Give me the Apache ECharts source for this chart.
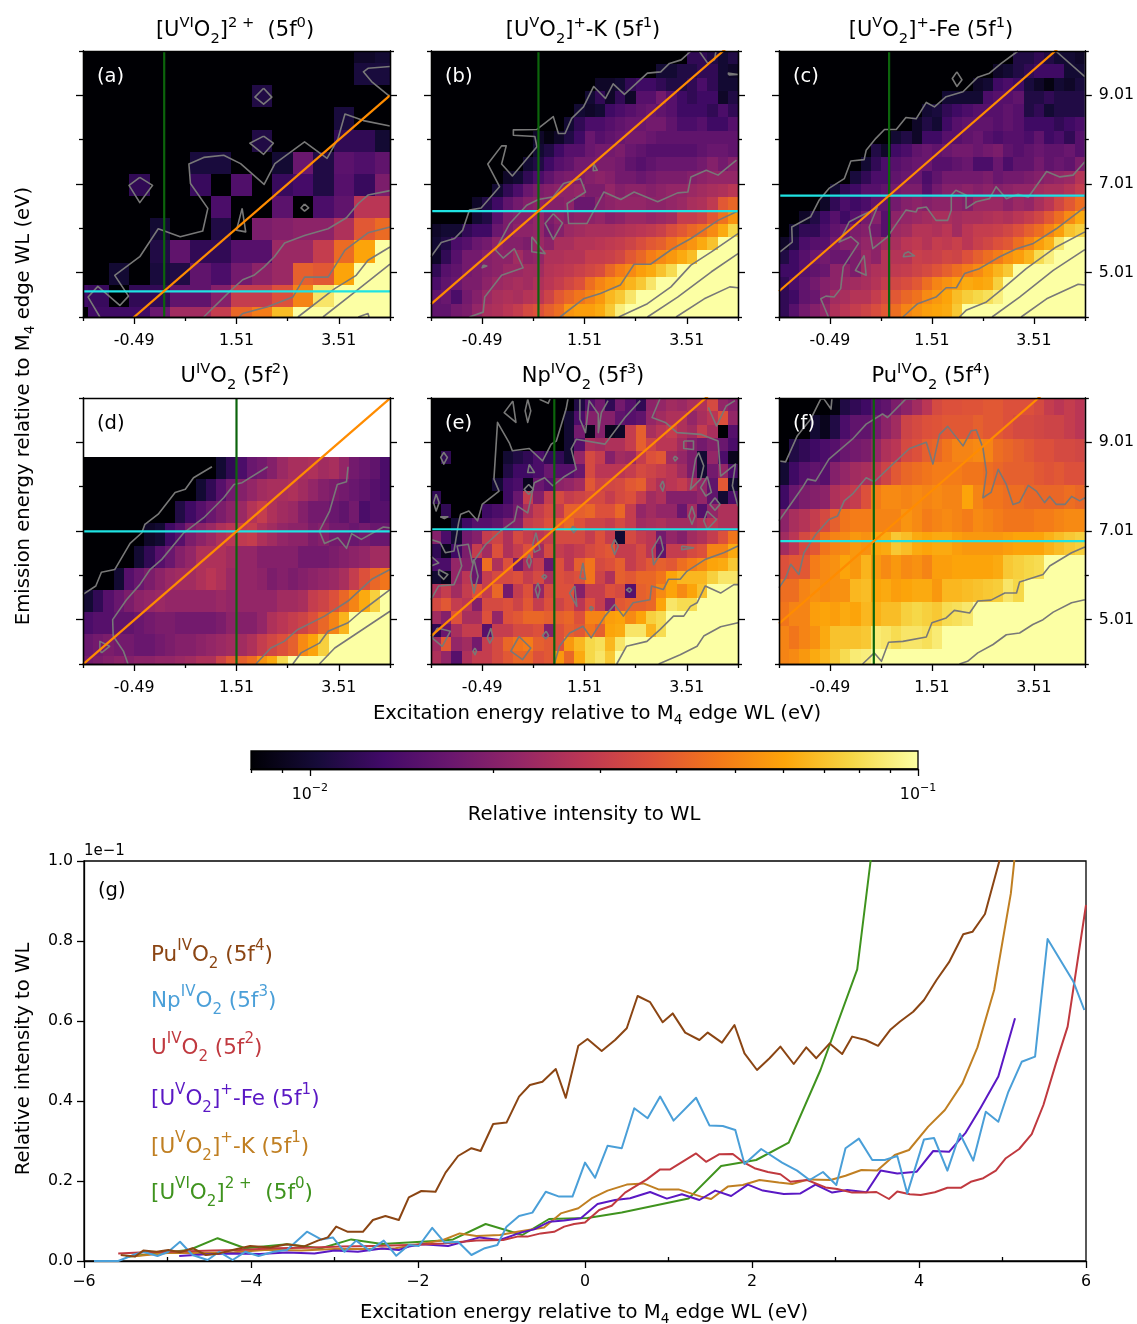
<!DOCTYPE html>
<html><head><meta charset="utf-8">
<style>html,body{margin:0;padding:0;background:#fff}#c{width:1137px;height:1324px}</style>
<script src="https://cdn.jsdelivr.net/npm/echarts@6/dist/echarts.min.js"></script>
</head><body><div id="c"></div>
<script>
// ---- colour scale (log10 of intensity) ----
const CB_MIN=Math.log10(0.008), CB_MAX=-1;
const INFERNO=['#000004','#160b39','#420a68','#6a176e','#932667','#bc3754','#dd513a','#f37819','#fca50a','#f6d746','#fcffa4'];
const CB_MINOR=[0.008,0.009,0.02,0.03,0.04,0.05,0.06,0.07,0.08,0.09];
const CB_MAJOR=[0.01,0.1];
// ---- tick labels ----
const X_MAJOR=[-0.49,1.51,3.51], X_MINOR=[-1.49,0.51,2.51,4.51];
const Y_MAJOR=[5.01,7.01,9.01], Y_MINOR=[4.01,6.01,8.01,10.01];
// ---- intensity grids, in units of 1e-3, rows listed top to bottom ----
const A_ROWS=[
[8,8,8,8,8,8,8,8,8,8,8,8,8,8,9.5,10],
[8,8,8,8,8,8,8,8,8,8,8,8,8,8,10.5,10.5],
[8,8,8,8,8,8,8,8,8,11,8,8,8,8,8,8],
[8,8,8,8,8,8,8,8,8,8,8,8,8,10.5,8,8],
[8,8,8,8,8,8,8,8,8,11,8,8,8,12,12,10],
[8,8,8,8,8,8,10.5,10.5,8,8,10,17,11,15.5,14.5,16],
[8,8,8,12,8,8,12.5,8,14.5,8,12.5,13.5,11,15,12.5,19],
[8,8,8,8,8,8,8,14,8,8,15.5,8,14,16,28,28],
[8,8,8,8,10,8,8,11,8,19,20,21,21,26,38,43],
[8,8,8,8,11,16,12,12,15,15,23,23,30,43,60,100],
[8,8,10,8,10.5,11,16,14,18,21,23,40,38,60,100,100],
[13,12.5,8,12,12,16,16,20,30,30,36,50,85,100,100,100],
[8,13,13,13,17,24,24,30,42,48,68,100,100,100,100,100]];
const B_ROWS=[
[8,8,8,8,8,8,8,8,8,8,8,8,8,8,8,8,8,8,8,8,8,8,8,8,8,12,12,11,10,11],
[8,8,8,8,8,8,8,8,8,8,8,8,8,8,8,8,8,8,8,8,8,8,10,10,11,11,12,12,10,9.5],
[8,8,8,8,8,8,8,8,8,8,8,8,8,8,8,8,9.5,9.5,10,12,13,13,12,11,11,12,14,12,10,10],
[8,8,8,8,8,8,8,8,8,8,8,8,8,8,8,10,12,9.5,12,9.5,15,15,18,15,13,12,13,13,9.5,11],
[8,8,8,8,8,8,8,8,8,8,8,8,8,8,10,9.5,10,13,14,15,16,17,16,15,13,13,13,12,14,12],
[8,8,8,8,8,8,8,8,8,8,8,8,8,10,12,14,14,15,16,17,17,18,18,16,14,14,15,13,13,15],
[8,8,8,8,8,8,8,8,8,8,9.5,8.5,9.5,11,13,17,15,16,17,18,18,17,16,16,16,16,16,16,16,16],
[8,8,8,8,8,8,8,8,8,8,10,11,13,15,15,17,18,18,19,17,16,15,15,15,15,15,16,17,17,16],
[8,8,8,8,8,8,8,8,8,10,11,13,15,16,18,18,19,19,18,16,15,16,17,17,17,17,18,20,18,20],
[8,8,8,8,8,8,8,9.5,10,12,14,16,18,19,19,20,21,20,18,18,17,18,19,19,19,20,21,22,22,22],
[8,8,8,8,8,8,10,12,14,17,19,20,21,21,22,19,19,22,20,21,21,20,21,22,22,23,24,25,26,28],
[8,8,8,8,9.5,11,13,16,18,20,21,20,20,21,17,17,20,21,22,22,22,21,21,22,23,25,26,29,38,42],
[8,8,8,8,10,11,15,19,20,20,22,19,21,20,21,21,22,20,21,23,23,22,23,24,30,30,32,38,45,55],
[9.5,10,10,12,13,13,17,19,21,21,22,18,20,23,24,25,25,25,26,27,28,29,31,35,38,42,45,52,62,78],
[10,11,14,15,17,18,21,20,20,19,23,21,25,25,27,27,28,29,30,32,35,38,40,45,50,55,62,70,100,100],
[9.5,12,15,18,18,20,21,21,24,21,22,26,26,27,27,30,30,31,33,38,42,48,52,56,62,68,100,100,100,100],
[12,15,16,18,19,20,21,23,23,24,24,27,28,29,31,33,35,42,48,52,58,62,70,80,100,100,100,100,100,100],
[14,16,17,19,19,21,23,24,25,24,26,28,30,33,36,44,50,55,58,65,72,85,100,100,100,100,100,100,100,100],
[16,17,14,18,20,23,25,26,25,27,28,32,38,42,46,50,56,66,72,85,100,100,100,100,100,100,100,100,100,100],
[16,16,18,19,22,25,26,28,30,34,36,40,44,55,58,58,62,72,90,100,100,100,100,100,100,100,100,100,100,100]];
const C_ROWS=[
[8,8,8,8,8,8,8,8,8,8,8,8,8,8,8,8,8,8,8,8,8,8,8,11,11,12,11,10,10,9.5],
[8,8,8,8,8,8,8,8,8,8,8,8,8,8,8,8,8,8,8,8,8,9.5,10,11,12,13,13,13,10,10],
[8,8,8,8,8,8,8,8,8,8,8,8,8,8,8,8,8,8,8,9.5,10,13,14,13,10.5,9.5,8.5,10,9.5,10.5],
[8,8,8,8,8,8,8,8,8,8,8,8,8,8,8,8,10,10,10,10,14,15,15,16,11,11,12,11,11,11],
[8,8,8,8,8,8,8,8,8,8,8,8,8,8,10,10.5,12,13,14,15,15,15,16,15,11,12,10,11,11,11],
[8,8,8,8,8,8,8,8,8,8,8,8,8,9.5,11,10,13,15,16,16,16,15,16,15,13,13,13,12,13,14],
[8,8,8,8,8,8,8,8,8,8,8,10,11,9.5,13,13,15,15,16,17,15,14,15,15,14,16,13,14,12,15],
[8,8,8,8,8,8,8,8,8,11,9.5,13,14,16,17,16,17,18,18,17,18,19,16,15,16,17,16,16,17,15],
[8,8,8,8,8,8,8,8,10,12,14,15,16,17,17,15,15,16,17,14,14,17,14,16,16,18,16,17,16,19],
[8,8,8,8,8,8,8,10.5,12,14,14,16,17,17,14,16,18,18,18,18,19,17,18,18,19,20,21,22,23,27],
[8,8,8,8,8,10,12,13,15,15,16,18,19,19,15,18,20,20,21,20,21,20,21,22,22,24,25,25,27,30],
[8,8,8,8,9.5,12,14,13,14,16,16,18,20,21,20,21,21,21,20,23,23,23,21,23,22,25,28,33,38,44],
[8,8,9.5,11,13,15,13,15,18,20,15,21,22,23,24,25,25,24,25,25,26,27,26,28,30,33,38,44,52,62],
[8,10,12,12,14,16,17,19,20,18,15,23,24,27,27,26,28,24,28,30,30,31,33,36,40,44,50,58,70,75],
[9.5,11,14,15,15,18,20,20,22,21,24,25,28,29,27,30,29,31,28,31,33,36,38,44,50,58,64,85,100,100],
[11,13,15,17,18,17,17,19,23,21,27,27,27,31,30,31,33,32,36,40,44,48,54,58,65,80,90,100,100,100],
[13,13,15,16,17,21,21,19,24,26,27,29,30,32,34,37,40,44,48,52,58,65,72,100,100,100,100,100,100,100],
[12,14,16,18,20,21,23,24,25,27,30,33,35,38,44,50,54,58,62,60,62,75,100,100,100,100,100,100,100,100],
[12,13,16,17,20,24,25,27,27,30,34,38,42,45,52,56,60,68,74,78,82,90,100,100,100,100,100,100,100,100],
[12,15,18,20,22,26,28,30,32,35,38,44,50,54,58,60,62,72,100,100,100,100,100,100,100,100,100,100,100,100]];
const D_ROWS=[
[8,8,8,8,8,8,8,8,8,8,8,8,8,10,12,14,17,18,20,23,25,25,26,24,25,22,18,17,16,14],
[8,8,8,8,8,8,8,8,8,8,8,10,12,15,18,20,22,24,25,25,26,24,22,20,19,18,17,16,15,14],
[8,8,8,8,8,8,8,8,8,11,13,15,17,19,21,23,27,30,26,24,23,20,18,18,17,16,18,14,15,15],
[8,8,8,8,8,8,9.5,10,13,15,19,21,23,26,28,29,30,26,24,22,21,21,19,20,18,18,17,18,17,17],
[8,8,8,8,8,10,12,15,17,20,22,26,26,26,24,22,22,20,20,20,20,18,18,18,19,20,21,22,24,24],
[8,8,8,10,15,17,19,21,23,24,24,26,28,26,23,22,22,21,19,20,19,20,21,22,23,25,30,36,42,46],
[10,12,15,17,19,21,22,23,22,22,22,22,22,23,22,22,22,22,22,24,24,25,30,32,36,42,50,62,75,100],
[14,15,15,16,16,17,18,19,19,18,18,18,18,19,21,20,20,22,26,28,30,32,36,42,50,65,100,100,100,100],
[17,18,19,18,18,17,17,18,19,20,20,21,22,23,24,24,26,30,33,36,40,52,60,75,100,100,100,100,100,100],
[18,19,20,21,20,21,21,22,22,23,24,26,26,32,38,40,44,55,62,80,100,100,100,100,100,100,100,100,100,100]];
const E_ROWS=[
[8,8,8,8,8,8,8,8,8,8,8,8,8,8,11,15,18,12,18,15,12,21,22,24,23,25,26,34,22,20],
[8,8,8,8,8,8,8,8,8,8,8,8,8,10,14,20,20,20,16,15,16,22,24,26,26,22,25,28,36,22],
[8,8,8,8,8,8,8,8,8,8,8,8,8,10,18,9,20,9,9.5,30,40,25,28,30,26,24,30,25,8,15],
[8,8,8,8,8,8,8,8,8,8,8,8,8,10,15,25,24,26,26,30,40,32,28,28,24,20,18,20,17,14],
[8,12,8,8,8,8,8,10,11,12,14,12,12,10,22,34,30,20,24,23,30,36,38,24,22,19,10,22,14,9],
[8,8,8,8,8,8,8,11,13,13,14,17,15,15,17,34,28,28,28,30,34,32,30,28,24,19,10,18,22,14],
[8,8,8,8,8,8,10,13,14,9,17,15,21,22,24,38,32,33,34,38,40,30,26,28,30,26,22,16,38,10],
[12,8,8,8,8,8,8,13,17,30,20,30,34,30,32,34,34,30,34,36,30,24,26,20,20,20,22,16,10,14],
[8,12,8,8,8,13,14,15,18,25,30,34,30,40,40,42,36,36,42,30,22,24,22,22,17,24,15,22,26,26],
[8,8,10,13,15,15,16,19,20,30,32,36,38,42,36,32,32,30,34,30,24,25,26,24,24,24,26,28,26,26],
[20,14,10,18,20,30,32,26,34,30,28,30,34,34,34,30,36,30,10,34,30,28,18,22,20,24,26,30,36,46],
[12,9,13,19,30,24,36,26,30,36,24,34,30,28,30,34,36,38,30,30,34,28,16,30,30,34,36,50,50,62],
[14,14,22,20,17,44,26,36,18,25,30,17,36,28,40,46,34,36,40,30,34,38,40,38,44,48,52,60,62,72],
[10,9,22,28,17,30,34,34,36,30,34,25,36,34,36,46,32,26,40,38,42,42,46,60,66,66,66,75,85,85],
[26,30,24,30,36,30,42,18,30,36,22,34,36,36,20,30,30,36,34,15,40,42,52,60,52,60,70,100,100,100],
[34,38,30,28,20,34,34,36,32,38,30,36,32,36,28,36,30,20,38,40,40,42,60,85,80,80,100,100,100,100],
[24,20,36,25,25,36,22,36,38,42,42,40,40,42,36,50,50,58,60,52,60,75,80,100,100,100,100,100,100,100],
[12,17,25,30,30,15,30,30,34,34,36,20,36,40,38,46,40,60,62,85,85,65,80,100,100,100,100,100,100,100],
[24,38,22,24,18,30,34,42,46,48,40,38,36,56,66,78,82,66,85,100,100,100,100,100,100,100,100,100,100,100],
[26,22,15,26,30,30,34,38,42,42,36,38,56,42,62,78,85,72,100,100,100,100,100,100,100,100,100,100,100,100]];
const F_ROWS=[
[8,8,8,8,8,8.5,11,12,13,15,16,19,21,24,28,34,36,36,37,37,38,38,36,36,36,34,30,28,30,28],
[8,8,8,10,9,11,14,16,16,18,21,24,32,34,36,37,38,38,38,40,38,38,36,34,34,33,32,32,30,28],
[8,11,12,13,14,15,17,18,19,22,26,28,34,36,40,42,46,50,50,52,50,44,42,40,38,36,36,34,34,33],
[10,13,15,16,15,20,22,24,25,28,32,38,42,44,46,48,48,48,46,46,44,42,40,40,40,38,37,38,36,36],
[13,17,19,20,21,26,28,30,36,48,52,52,50,52,50,52,50,50,60,50,46,46,44,44,42,42,42,42,44,42],
[21,25,27,30,34,40,46,48,48,50,50,50,55,52,48,50,52,50,48,52,50,48,46,46,46,48,48,50,52,52],
[24,28,34,38,46,50,52,56,54,60,62,72,68,62,60,62,62,58,56,56,56,56,58,60,60,60,64,68,72,75],
[36,38,38,48,52,54,60,56,65,56,52,56,52,54,50,58,58,60,60,60,60,62,72,75,78,80,100,100,100,100],
[44,44,50,54,52,54,54,66,68,60,62,58,60,62,62,56,66,66,68,70,72,74,85,78,100,100,100,100,100,100],
[46,50,50,58,60,58,62,60,66,64,68,68,75,78,75,72,80,82,86,100,100,100,100,100,100,100,100,100,100,100],
[50,46,50,54,62,70,70,70,72,88,85,80,85,85,82,88,100,100,100,100,100,100,100,100,100,100,100,100,100,100],
[50,52,56,62,66,72,80,88,90,100,100,100,100,100,100,100,100,100,100,100,100,100,100,100,100,100,100,100,100,100]];
const A_LINES=[
[[-1.16,4.01],[-1.39,4.46],[-1.2,4.7],[-.77,4.27],[-.6,4.48],[-.87,4.95],[-.38,5.37],[-.02,6.0],[.41,5.82],[.85,5.95],[.95,6.46],[.61,7.02],[.58,7.46],[.87,7.61],[1.26,7.66],[1.59,7.47],[2.05,7.0],[2.26,7.47],[2.84,7.96],[3.28,7.59],[3.49,8.02],[3.63,8.59],[3.99,8.44],[4.51,8.32]],
[[4.51,8.98],[4.15,9.32],[3.99,9.54],[4.08,9.62],[4.51,9.66]],
[[.87,4.01],[1.4,4.61],[1.63,4.85],[1.85,4.95],[2.05,5.14],[2.25,5.37],[2.45,5.68],[2.84,5.85],[3.3,6.0],[3.66,6.25],[3.89,6.57],[4.08,6.76],[4.51,6.86]],
[[1.56,4.01],[1.63,4.09],[2.12,4.24],[2.61,4.46],[2.84,4.91],[3.3,4.91],[3.63,5.52],[4.08,5.91],[4.51,6.04]],
[[2.71,4.01],[3.43,4.65],[3.85,4.95],[4.08,5.29],[4.51,5.59]],
[[3.2,4.01],[3.82,4.57],[4.51,5.2]],
[[3.89,4.01],[4.08,4.09],[4.1,4.01]]];
const A_LOOPS=[
[[-.38,7.16],[-.13,6.98],[-.38,6.59],[-.59,6.98]],
[[2.04,9.17],[2.2,8.97],[2.04,8.81],[1.87,8.97]],
[[2.04,8.09],[2.23,7.93],[2.04,7.68],[1.77,7.93]],
[[2.84,6.56],[2.92,6.47],[2.84,6.4],[2.77,6.47]],
[[1.62,6.46],[1.69,5.93],[1.51,5.97]]];
const B_LINES=[
[[-1.49,5.37],[-1.29,5.69],[-1.03,5.78],[-.87,5.97],[-.74,6.42],[-.51,6.47],[-.15,6.95],[-.38,7.46],[-.11,7.87],[-.02,7.87],[-.11,7.46],[.1,7.19],[.58,7.85],[.54,8.08],[.12,8.11],[.12,8.23],[.58,8.24],[.9,8.53],[1.0,8.15],[1.13,8.15],[1.26,8.49],[1.49,8.75],[1.69,9.21],[1.92,8.94],[2.07,9.27],[2.29,9.03],[2.74,9.51],[3.0,9.54],[3.17,9.73],[3.4,9.81],[3.59,10.01]],
[[3.75,10.01],[3.92,9.73],[4.05,9.81],[4.08,10.01]],
[[-.74,4.01],[-.47,4.12],[-.44,4.46],[-.11,4.95],[.31,5.12],[.14,5.55],[-.08,5.34],[-.23,5.52],[.05,6.12],[.38,6.53],[.61,6.66],[.9,6.72],[1.1,7.02],[1.43,7.13],[1.53,6.83],[1.17,6.57],[1.2,6.12],[1.56,6.12],[1.89,6.83],[2.22,6.66],[2.48,6.83],[2.94,6.61],[3.33,6.81],[3.53,6.83],[3.59,7.17],[3.89,7.32],[4.12,7.21],[4.48,7.55]],
[[1.03,4.01],[1.49,4.42],[1.82,4.54],[2.21,4.73],[2.48,5.2],[2.8,5.2],[3.23,5.55],[3.59,5.78],[4.12,6.19],[4.51,6.4]],
[[2.18,4.01],[2.74,4.31],[3.2,4.69],[3.59,5.18],[3.99,5.48],[4.51,5.89]],
[[2.74,4.01],[3.33,4.46],[3.99,5.03],[4.51,5.44]],
[[3.3,4.01],[3.85,4.42],[4.35,4.69],[4.51,4.67]]];
const B_LOOPS=[
[[4.31,9.51],[4.51,9.48],[4.34,9.47]],
[[.9,6.34],[1.08,6.13],[.9,5.76],[.74,6.12]],
[[.48,5.82],[.74,5.44],[.48,5.48]],
[[1.69,7.47],[1.76,7.32],[1.68,7.31]],
[[-.47,5.18],[-.4,5.16],[-.49,5.12]]];
const C_LINES=[
[[-1.47,5.48],[-1.23,5.7],[-1.24,6.04],[-.87,6.27],[-.7,6.65],[-.51,6.91],[-.21,7.13],[-.08,7.53],[.18,7.56],[.22,7.77],[.41,8.04],[.58,8.24],[.81,8.24],[1.0,8.51],[1.2,8.48],[1.4,8.85],[1.56,8.75],[1.79,8.98],[2.12,9.09],[2.41,9.42],[2.64,9.51],[2.87,9.73],[3.2,10.01]],
[[3.94,10.01],[4.51,9.43]],
[[-.52,4.01],[-.67,4.42],[-.57,4.48],[-.41,4.46],[-.28,4.65],[-.23,5.14],[.07,5.67],[-.08,5.82],[-.31,5.7],[-.11,6.16],[.08,6.27],[.35,6.42],[.44,6.49],[.28,6.04],[.35,5.55],[.64,5.82],[1.0,6.42],[1.2,6.38],[1.23,6.46],[1.4,6.49],[1.59,6.19],[1.82,6.19],[1.89,6.42],[1.89,6.76],[1.98,6.87],[2.18,6.76],[2.18,6.46],[2.38,6.61],[2.64,6.68],[2.77,6.95],[2.97,6.68],[3.2,6.78],[3.4,6.71],[3.76,7.29],[4.02,7.17],[4.28,7.21],[4.51,7.51]],
[[.94,4.01],[1.23,4.31],[1.59,4.46],[1.79,4.67],[1.99,4.67],[2.15,4.99],[2.44,5.1],[2.84,5.37],[3.17,5.55],[3.5,5.67],[3.95,6.0],[4.51,6.49]],
[[2.05,4.01],[2.18,4.16],[2.58,4.35],[2.9,4.65],[3.36,5.1],[3.95,5.59],[4.51,5.93]],
[[2.69,4.01],[3.23,4.46],[3.89,5.06],[4.51,5.53]],
[[3.26,4.01],[3.76,4.42],[4.38,4.75],[4.51,4.73]]];
const C_LOOPS=[
[[2,9.54],[2.1,9.36],[2,9.21],[1.91,9.39]],
[[.97,5.44],[1.05,5.48],[1.17,5.39],[.95,5.37]],
[[.18,5.4],[.22,4.95],[.01,5.06]]];
const D_LINES=[
[[-1.49,5.58],[-1.24,5.77],[-1.13,6.08],[-.87,6.14],[-.57,6.73],[-.34,6.97],[-.28,7.16],[-.02,7.39],[.31,7.88],[.51,7.95],[.67,8.21],[1.03,8.46]],
[[-.61,4.01],[-.7,4.3],[-.9,4.64],[-.91,5.01],[-.64,5.46],[-.38,5.8],[-.18,6.14],[.05,6.37],[.48,6.97],[.87,7.31],[1.26,7.76],[1.46,8.06],[1.62,8.1],[2.12,8.46]],
[[3.69,8.46],[3.66,8.12],[3.48,8.06],[3.33,7.46],[3.13,7.01],[3.23,6.73],[3.49,6.86],[3.66,6.62],[3.76,6.95],[3.95,6.82],[4.38,7.1],[4.51,7.08]],
[[1.89,4.01],[2.18,4.37],[2.44,4.52],[2.71,4.79],[3.23,5.09],[3.69,5.43],[4.15,5.92],[4.51,6.14]],
[[2.61,4.01],[2.77,4.26],[3.13,4.48],[3.3,4.75],[3.69,4.94],[3.95,5.2],[4.51,5.69]],
[[3.13,4.01],[3.43,4.37],[3.82,4.67],[4.51,5.2]]];
const D_LOOPS=[[[-1.13,4.26],[-.97,4.41],[-1.16,4.52],[-1.16,4.35]]];
const E_LINES=[
[[-1.49,6.82],[-1.31,6.75],[-1.21,6.52],[-1.04,6.56],[-.95,7.2],[-.91,7.39],[-.75,7.46],[-.58,7.24],[-.49,7.61],[-.16,7.91],[-.26,8.18],[-.19,9.46],[.04,9.0],[.1,8.82],[.43,8.87],[.69,8.59],[.86,8.97],[.96,9.04],[1.15,9.76],[1.19,10.01]],
[[-1.49,5.46],[-1.34,5.77],[-1.04,5.8],[-.89,6.22],[-.98,6.67],[-.76,6.71],[-.68,6.29],[-.42,6.71],[-.13,7.01],[.14,7.24],[.2,7.57],[.4,7.42],[.53,8.1],[.73,8.21],[.89,8.03],[1.12,8.24],[1.35,8.4],[1.25,8.86],[1.35,9.08],[1.91,8.97],[2.3,9.57],[2.6,9.95]],
[[1.42,10.01],[1.42,9.53],[1.53,9.23],[1.6,9.95],[1.78,9.65],[1.78,9.23],[1.84,9.68],[1.97,9.95]],
[[2.99,10.01],[2.83,9.57],[3.09,9.46],[3.32,9.23],[3.78,9.19],[4.12,9.04],[4.17,8.25],[4.46,8.52],[4.4,8.03],[4.51,7.57]],
[[3.93,9.8],[4.09,9.38],[4.28,9.83],[4.45,9.95]],
[[.63,9.98],[.8,9.89],[.84,10.0]],
[[-1.49,6.44],[-1.34,6.29],[-1.49,6.22]],
[[.92,4.01],[1.02,4.41],[1.22,4.71],[1.48,4.86],[1.64,4.6],[1.91,5.09],[2.1,5.35],[2.27,5.09],[2.46,5.39],[2.79,5.46],[2.82,5.77],[3.05,5.69],[3.15,5.92],[3.38,5.92],[3.51,6.1],[3.87,6.37],[4.23,6.52],[4.51,6.67]],
[[2.14,4.01],[2.33,4.41],[2.73,4.52],[2.99,4.79],[3.25,5.09],[3.45,5.09],[3.58,5.31],[3.71,5.39],[3.87,5.77],[4.17,5.61],[4.43,5.8],[4.51,5.8]],
[[2.96,4.01],[3.38,4.22],[3.71,4.41],[3.84,4.64],[4.17,4.85],[4.51,4.94]]];
const E_LOOPS=[
[[3.74,8.78],[3.84,8.48],[3.78,8.18],[3.58,7.95],[3.68,8.63]],
[[3.91,8.24],[3.99,7.88],[3.88,7.8],[3.78,7.99]],
[[4.06,7.76],[4.16,7.61],[4.06,7.48],[3.96,7.61]],
[[3.45,9.04],[3.64,9.04],[3.64,8.85],[3.45,8.87]],
[[3.91,7.46],[4.09,7.27],[3.91,7.05],[3.84,7.24]],
[[3.61,7.57],[3.67,7.35],[3.61,7.16],[3.55,7.35]],
[[2.99,6.9],[3.05,6.59],[2.86,6.25],[2.83,6.59]],
[[2.1,6.82],[2.17,6.67],[2.1,6.48],[2.04,6.67]],
[[1.48,6.29],[1.53,5.92],[1.42,5.95]],
[[1.32,5.77],[1.36,5.31],[1.22,5.61]],
[[.6,5.84],[.64,5.69],[.6,5.5],[.55,5.69]],
[[.56,6.97],[.64,6.59],[.53,6.53],[.5,6.71]],
[[.43,6.48],[.47,6.33],[.43,6.18],[.38,6.33]],
[[-1.24,8.78],[-1.17,8.67],[-1.24,8.52],[-1.3,8.67]],
[[-1.39,7.84],[-1.33,7.65],[-1.39,7.46],[-1.44,7.65]],
[[.4,9.98],[.46,9.72],[.4,9.46],[.35,9.72]],
[[.11,9.94],[.17,9.46],[-.06,9.68]],
[[.43,8.51],[.53,8.33],[.4,8.33]],
[[.42,8.06],[.51,7.95],[.42,7.84],[.33,7.95]],
[[-1.37,4.82],[-1.11,4.75],[-1.27,4.41],[-1.47,4.6]],
[[.23,4.63],[.46,4.37],[.3,4.11],[.07,4.3]],
[[-.32,4.82],[-.28,4.6],[-.34,4.48],[-.39,4.6]],
[[-.63,4.37],[-.6,4.3],[-.63,4.22],[-.67,4.3]],
[[.76,4.75],[.81,4.65],[.75,4.58],[.69,4.65]],
[[-1.34,6.14],[-1.16,6.03],[-1.24,5.92],[-1.34,6.03]],
[[-.65,6.37],[-.57,5.99],[-.65,5.61],[-.72,5.99]],
[[1.28,7.12],[1.36,7.05],[1.3,6.97],[1.25,7.05]],
[[3.41,6.67],[3.64,6.63],[3.41,6.59]],
[[3.28,8.7],[3.33,8.65],[3.28,8.59],[3.25,8.65]],
[[3.04,8.14],[3.07,8.03],[3.04,7.91],[2.99,8.03]],
[[1.64,5.31],[1.68,5.27],[1.64,5.22],[1.61,5.27]],
[[2.39,5.73],[2.43,5.68],[2.39,5.63],[2.33,5.68]],
[[.73,6.03],[.77,5.98],[.73,5.93],[.68,5.98]],
[[-1.31,7.33],[-1.16,7.33],[-1.23,7.29]]];
const F_LINES=[
[[-1.49,8.59],[-1.36,8.57],[-1.13,9.16],[-.87,9.53],[-.67,9.99],[-.61,9.99],[-.47,9.76],[-.45,10.01]],
[[-1.49,7.24],[-1.33,7.5],[-1.03,7.99],[-.93,8.18],[-.77,8.14],[-.51,8.63],[-.05,9.08],[.22,9.42],[.54,9.65],[.64,9.57],[1.0,9.99],[1.2,9.99]],
[[-1.49,5.73],[-1.36,5.95],[-1.26,6.26],[-1.1,6.03],[-1.0,6.52],[-.77,6.93],[-.51,7.27],[-.34,7.35],[-.21,7.69],[-.05,7.84],[.22,8.21],[.38,8.12],[.67,8.44],[1.07,8.87],[1.4,9.01],[1.53,8.52],[1.66,9.19],[1.82,9.37],[2.12,8.93],[2.28,9.27],[2.38,9.29],[2.51,8.89],[2.58,8.33],[2.51,7.76],[2.67,7.88],[2.81,8.4],[2.97,8.06],[3.1,7.61],[3.23,7.66],[3.4,8.04],[3.56,7.91],[3.72,7.65],[3.82,7.79],[3.95,7.61],[4.12,7.61],[4.25,7.79],[4.41,7.69],[4.51,7.76]],
[[.15,4.01],[.38,4.26],[.52,4.07],[.66,4.5],[.94,4.52],[1.4,4.62],[1.51,4.94],[1.79,5.05],[1.95,5.22],[2.25,5.16],[2.41,5.43],[2.67,5.45],[2.94,5.61],[3.17,5.61],[3.23,5.86],[3.69,6.03],[3.82,6.22],[4.25,6.52],[4.51,6.65]],
[[2.05,4.01],[2.21,4.07],[2.41,4.26],[2.71,4.45],[2.97,4.67],[3.23,4.71],[3.49,4.9],[3.69,5.01],[3.89,5.18],[4.25,5.39],[4.51,5.46]]];
const F_LOOPS=[];
// ---- panel (g) series: [excitation eV, relative intensity in units of 1e-1] ----
const PU=[[-5.56,.015],[-5.39,.011],[-5.29,.026],[-5.13,.023],[-4.99,.0275],[-4.85,.022],[-4.7,.032],[-4.54,.015],[-4.38,.019],[-4.22,.0275],[-4.01,.0375],[-3.77,.034],[-3.57,.042],[-3.37,.036],[-3.2,.051],[-3.08,.059],[-2.98,.086],[-2.84,.073],[-2.66,.073],[-2.54,.1025],[-2.39,.1125],[-2.23,.1025],[-2.11,.159],[-1.96,.175],[-1.79,.173],[-1.67,.221],[-1.52,.2625],[-1.36,.282],[-1.25,.275],[-1.1,.3425],[-.94,.346],[-.79,.411],[-.66,.44],[-.51,.448],[-.35,.48],[-.23,.408],[-.08,.538],[.03,.555],[.2,.525],[.36,.5525],[.5,.582],[.63,.6625],[.78,.647],[.93,.597],[1.05,.619],[1.2,.571],[1.37,.5525],[1.47,.571],[1.64,.546],[1.79,.59],[1.91,.519],[2.06,.4775],[2.21,.507],[2.34,.536],[2.5,.4925],[2.65,.534],[2.77,.507],[2.93,.544],[3.08,.5175],[3.2,.561],[3.36,.5525],[3.51,.538],[3.66,.579],[3.77,.598],[3.93,.623],[4.06,.6525],[4.21,.7025],[4.36,.747],[4.53,.817],[4.64,.823],[4.79,.8675],[4.96,.998],[5.1,1.25]];
const NP=[[-5.88,0],[-5.59,0],[-5.41,.015],[-5.29,.023],[-5.12,.0125],[-4.99,.023],[-4.85,.048],[-4.7,.015],[-4.52,.0025],[-4.38,.023],[-4.22,.0025],[-4.07,.023],[-3.91,.0125],[-3.73,.023],[-3.57,.0275],[-3.33,.0733],[-3.16,.054],[-3.02,.059],[-2.88,.023],[-2.74,.051],[-2.58,.026],[-2.41,.051],[-2.26,.013],[-2.11,.04],[-1.99,.0375],[-1.83,.083],[-1.68,.046],[-1.52,.048],[-1.36,.015],[-1.2,.032],[-1.05,.04],[-.94,.0858],[-.79,.1125],[-.63,.121],[-.47,.173],[-.31,.161],[-.15,.161],[0,.246],[.12,.208],[.27,.288],[.44,.282],[.59,.382],[.75,.357],[.9,.411],[1.06,.351],[1.33,.408],[1.49,.339],[1.65,.3375],[1.8,.3275],[1.91,.2425],[2.11,.28],[2.36,.246],[2.54,.226],[2.69,.2025],[2.85,.2225],[3.01,.19],[3.12,.282],[3.28,.306],[3.44,.2525],[3.59,.2525],[3.74,.2625],[3.86,.169],[4.06,.304],[4.18,.3075],[4.34,.226],[4.49,.318],[4.65,.251],[4.8,.373],[4.95,.348],[5.07,.423],[5.23,.498],[5.39,.511],[5.54,.805],[5.85,.698],[5.98,.6275]];
const UO2=[[-5.59,.019],[-5.27,.022],[-4.95,.023],[-4.46,.026],[-4.14,.0275],[-3.73,.032],[-3.33,.033],[-2.92,.036],[-2.52,.0375],[-2.11,.04],[-1.7,.044],[-1.3,.051],[-.98,.0525],[-.81,.061],[-.69,.061],[-.53,.069],[-.37,.073],[-.25,.086],[-.13,.0925],[0,.096],[.17,.1275],[.32,.138],[.48,.171],[.74,.204],[.9,.229],[1.02,.229],[1.33,.269],[1.45,.248],[1.61,.267],[1.77,.2675],[1.89,.248],[2.03,.232],[2.19,.2225],[2.34,.217],[2.46,.198],[2.66,.2025],[2.88,.184],[3.02,.18],[3.2,.171],[3.35,.171],[3.49,.1725],[3.64,.155],[3.74,.174],[3.89,.167],[4.02,.165],[4.19,.172],[4.34,.183],[4.5,.183],[4.62,.198],[4.77,.207],[4.92,.226],[5.04,.257],[5.2,.28],[5.35,.317],[5.49,.39],[5.64,.494],[5.78,.586],[6.0,.89]];
const FE=[[-4.86,.0125],[-4.54,.0167],[-4.22,.019],[-3.89,.0175],[-3.57,.021],[-3.24,.019],[-3,.026],[-2.72,.023],[-2.43,.031],[-2.23,.0275],[-2.11,.036],[-1.95,.042],[-1.64,.0375],[-1.26,.059],[-1.02,.0525],[-.77,.071],[-.61,.079],[-.43,.098],[-.25,.101],[-.05,.107],[.15,.1425],[.36,.1525],[.54,.157],[.78,.1725],[.98,.156],[1.16,.167],[1.37,.1525],[1.56,.176],[1.75,.1625],[1.95,.191],[2.13,.176],[2.38,.1675],[2.58,.169],[2.76,.191],[2.96,.171],[3.14,.1775],[3.37,.172],[3.54,.226],[3.74,.219],[3.97,.223],[4.17,.275],[4.36,.273],[4.56,.321],[4.74,.384],[4.95,.461],[5.15,.607]];
const K=[[-5.4,.012],[-5,.02],[-4.6,.02],[-4.2,.022],[-3.8,.028],[-3.4,.026],[-3,.03],[-2.6,.03],[-2.27,.032],[-2.03,.04],[-1.7,.0525],[-1.5,.069],[-1.3,.0625],[-1.02,.065],[-.81,.073],[-.49,.084],[-.29,.119],[-.08,.132],[.09,.158],[.27,.176],[.5,.191],[.7,.194],[.88,.179],[1.12,.179],[1.39,.161],[1.51,.155],[1.71,.186],[1.89,.19],[2.09,.2025],[2.32,.196],[2.48,.1925],[2.68,.204],[2.94,.2025],[3.12,.213],[3.31,.2275],[3.5,.226],[3.71,.265],[3.88,.2775],[4.11,.336],[4.31,.3775],[4.52,.444],[4.7,.534],[4.9,.6775],[5.1,.919],[5.14,.998],[5.2,1.2]];
const UVI=[[-5.5,.01],[-5.1,.02],[-4.74,.0275],[-4.4,.057],[-4.07,.032],[-3.57,.042],[-3.16,.032],[-2.8,.054],[-2.43,.0425],[-1.7,.051],[-1.58,.054],[-1.19,.0925],[-.75,.065],[-.43,.105],[.03,.1075],[.44,.121],[1.24,.156],[1.63,.2375],[2.05,.2525],[2.44,.296],[2.82,.4775],[3.26,.729],[3.42,1.0],[3.5,1.2]];
const G_SERIES=[
 {data:UVI,color:'#3f931e'},{data:K,color:'#c07f22'},{data:FE,color:'#5a18c4'},
 {data:UO2,color:'#c0393f'},{data:NP,color:'#4a9fd8'},{data:PU,color:'#8b4513'}];
// ---- panels ----
const PANELS=[
 {rows:A_ROWS,lines:A_LINES,loops:A_LOOPS,dx:.4,dy:.5,x0:-1.59,yBottom:3.986,vx:.097,hy:4.59,diag:4.5,px:83,py:51,tag:'(a)',tagColor:'#fff'},
 {rows:B_ROWS,lines:B_LINES,loops:B_LOOPS,dx:.2,dy:.3,x0:-1.39,yBottom:4.16,vx:.61,hy:6.40,diag:5.79,px:431,py:51,tag:'(b)',tagColor:'#fff'},
 {rows:C_ROWS,lines:C_LINES,loops:C_LOOPS,dx:.2,dy:.3,x0:-1.39,yBottom:4.16,vx:.67,hy:6.75,diag:6.08,px:779,py:51,tag:'(c)',tagColor:'#fff',right:true},
 {rows:D_ROWS,lines:D_LINES,loops:D_LOOPS,dx:.2,dy:.5,x0:-1.39,yBottom:3.93,vx:1.51,hy:7.0,diag:5.49,px:83,py:398,tag:'(d)',tagColor:'#000'},
 {rows:E_ROWS,lines:E_LINES,loops:E_LOOPS,dx:.2,dy:.3,x0:-1.39,yBottom:4.16,vx:.92,hy:7.05,diag:6.13,px:431,py:398,tag:'(e)',tagColor:'#fff'},
 {rows:F_ROWS,lines:F_LINES,loops:F_LOOPS,dx:.2,dy:.527,x0:-1.39,yBottom:4.0865,vx:.37,hy:6.78,diag:6.41,px:779,py:398,tag:'(f)',tagColor:'#fff',right:true}];
const FONT='"DejaVu Sans"';
const PW=307, PH=266, TICK_FS=15.8;
const grid=[],xAxis=[],yAxis=[],series=[],heatIdx=[];
const AX={color:'#000',width:1.3};
function cellRender(p){return function(params,api){
  const x=api.value(0),y=api.value(1);
  const a=api.coord([x-p.dx/2,y+p.dy/2]),b=api.coord([x+p.dx/2,y-p.dy/2]);
  const l=Math.round(a[0]),t=Math.round(a[1]),r=Math.round(b[0]),bt=Math.round(b[1]);
  const shape=echarts.graphic.clipRectByRect({x:l,y:t,width:r-l,height:bt-t},
    {x:params.coordSys.x,y:params.coordSys.y,width:params.coordSys.width,height:params.coordSys.height});
  return shape&&{type:'rect',shape:shape,style:{fill:api.visual('color')}};
};}
PANELS.forEach((p,i)=>{
  grid.push({left:p.px,top:p.py,width:PW,height:PH,show:false});
  const xBase={type:'value',gridIndex:i,min:-1.49,max:4.51,splitLine:{show:false},z:5,axisLine:{show:true,onZero:false,lineStyle:AX}};
  const yBase={type:'value',gridIndex:i,min:4.01,max:10.01,splitLine:{show:false},z:5,axisLine:{show:true,onZero:false,lineStyle:AX}};
  const xi=xAxis.length, yi=yAxis.length;
  xAxis.push({...xBase,position:'bottom',axisTick:{show:true,length:7,lineStyle:AX,customValues:X_MAJOR},
    axisLabel:{show:true,customValues:X_MAJOR,margin:16,color:'#000',fontFamily:FONT,fontSize:TICK_FS,formatter:v=>v.toFixed(2)}});
  xAxis.push({...xBase,position:'bottom',axisTick:{show:true,length:4,lineStyle:AX,customValues:X_MINOR},axisLabel:{show:false}});
  xAxis.push({...xBase,position:'top',axisTick:{show:false},axisLabel:{show:false}});
  yAxis.push({...yBase,position:'left',axisTick:{show:true,length:7,lineStyle:AX,customValues:Y_MAJOR},axisLabel:{show:false}});
  yAxis.push({...yBase,position:'left',axisTick:{show:true,length:4,lineStyle:AX,customValues:Y_MINOR},axisLabel:{show:false}});
  yAxis.push({...yBase,position:'right',axisTick:{show:true,length:7,lineStyle:AX,customValues:Y_MAJOR},
    axisLabel:p.right?{show:true,customValues:Y_MAJOR,margin:14,padding:[3,0,0,0],color:'#000',fontFamily:FONT,fontSize:TICK_FS,formatter:v=>v.toFixed(2)}:{show:false}});
  yAxis.push({...yBase,position:'right',axisTick:{show:true,length:4,lineStyle:AX,customValues:Y_MINOR},axisLabel:{show:false}});
  const data=[];
  p.rows.forEach((row,j)=>row.forEach((v,k)=>{
    const lv=Math.min(CB_MAX,Math.max(CB_MIN,Math.log10(v/1000)));
    data.push([p.x0+k*p.dx,p.yBottom+(p.rows.length-1-j)*p.dy,lv]);
  }));
  heatIdx.push(series.length);
  series.push({type:'custom',xAxisIndex:xi,yAxisIndex:yi,data,encode:{x:0,y:1},renderItem:cellRender(p),z:1,silent:true,animation:false,clip:true});
  const ln=(d,color,w,z)=>series.push({type:'line',xAxisIndex:xi,yAxisIndex:yi,data:d,showSymbol:false,silent:true,animation:false,z,clip:true,
    lineStyle:{color,width:w,opacity:1,join:'round'},itemStyle:{color}});
  p.lines.forEach(l=>ln(l,'#787878',1.6,2));
  p.loops.forEach(l=>ln(l.concat([l[0]]),'#787878',1.6,2));
  ln([[p.vx,4.01],[p.vx,10.01]],'#0c640c',2.2,3);
  ln([[-1.49,p.hy],[4.51,p.hy]],'#1fe3e3',2.2,3);
  ln([[-1.49,-1.49+p.diag],[4.51,4.51+p.diag]],'#ff8c00',2.2,3);
});
// colour bar
const cbG=grid.length;
grid.push({left:251,top:751,width:667,height:18,show:false});
const cbX=xAxis.length,cbY=yAxis.length;
const cbBase={type:'value',gridIndex:cbG,min:CB_MIN,max:CB_MAX,splitLine:{show:false},position:'bottom',z:5,axisLine:{show:true,lineStyle:AX}};
xAxis.push({...cbBase,axisTick:{show:true,length:7,lineStyle:AX,customValues:CB_MAJOR.map(Math.log10)},
  axisLabel:{show:true,customValues:CB_MAJOR.map(Math.log10),margin:14,color:'#000',fontFamily:FONT,fontSize:TICK_FS,
   formatter:v=>'10{s|−'+Math.round(-v)+'}',rich:{s:{fontSize:11,fontFamily:FONT,verticalAlign:'top',lineHeight:24,color:'#000'}}}});
xAxis.push({...cbBase,axisTick:{show:true,length:4,lineStyle:AX,customValues:CB_MINOR.map(Math.log10)},axisLabel:{show:false}});
yAxis.push({type:'value',gridIndex:cbG,min:0,max:1,show:false});
series.push({type:'custom',xAxisIndex:cbX,yAxisIndex:cbY,data:[[CB_MIN,CB_MAX]],encode:{x:[0,1]},z:1,silent:true,animation:false,
  renderItem:(params,api)=>{
    const a=api.coord([api.value(0),1]),b=api.coord([api.value(1),0]);
    return {type:'rect',shape:{x:a[0],y:a[1],width:b[0]-a[0],height:b[1]-a[1]},
      style:{stroke:'#000',lineWidth:1.3,fill:new echarts.graphic.LinearGradient(0,0,1,0,INFERNO.map((c,i)=>({offset:i/10,color:c})))}};
  }});
// panel (g)
const gG=grid.length;
grid.push({left:84,top:861,width:1002,height:400,show:true,borderColor:'#000',borderWidth:1.3,backgroundColor:'#fff'});
const gX=xAxis.length,gY=yAxis.length;
xAxis.push({type:'value',gridIndex:gG,min:-6,max:6,interval:2,splitLine:{show:false},axisLine:{show:true,onZero:false,lineStyle:AX},
  axisTick:{show:true,length:7,lineStyle:AX},axisLabel:{margin:13,color:'#000',fontFamily:FONT,fontSize:TICK_FS,formatter:v=>String(v).replace('-','−')}});
xAxis.push({type:'value',gridIndex:gG,min:-6,max:6,splitLine:{show:false},axisLine:{show:false},
  axisTick:{show:true,length:4,lineStyle:AX,customValues:[-5,-3,-1,1,3,5]},axisLabel:{show:false}});
yAxis.push({type:'value',gridIndex:gG,min:0,max:1,interval:.2,splitLine:{show:false},axisLine:{show:true,onZero:false,lineStyle:AX},
  axisTick:{show:true,length:7,lineStyle:AX},axisLabel:{margin:11,padding:[2,0,0,0],color:'#000',fontFamily:FONT,fontSize:TICK_FS,formatter:v=>v.toFixed(1)}});
G_SERIES.forEach(s=>series.push({type:'line',xAxisIndex:gX,yAxisIndex:gY,data:s.data,showSymbol:false,silent:true,animation:false,clip:true,z:3,
  lineStyle:{color:s.color,width:2,join:'round'},itemStyle:{color:s.color}}));
// text
const RICH=(fs,c)=>({
  s:{fontSize:fs*.7,fontFamily:FONT,verticalAlign:'top',lineHeight:fs*1.5,fill:c,color:c},
  b:{fontSize:fs*.7,fontFamily:FONT,verticalAlign:'bottom',lineHeight:fs*1.42,fill:c,color:c}});
function T(text,x,y,fs,opt){opt=opt||{};const c=opt.color||'#000';
  return {type:'text',x:opt.rot?x+2:x,y:opt.rot?y:y+2,rotation:opt.rot||0,z:20,silent:true,
    style:{text,fontFamily:FONT,fontSize:fs,fill:c,align:opt.align||'center',verticalAlign:'middle',rich:RICH(fs,c)}};}
const TITLES=['[U{s|VI}O{b|2}]{s|2 +}  (5f{s|0})','[U{s|V}O{b|2}]{s|+}-K (5f{s|1})','[U{s|V}O{b|2}]{s|+}-Fe (5f{s|1})','U{s|IV}O{b|2} (5f{s|2})','Np{s|IV}O{b|2} (5f{s|3})','Pu{s|IV}O{b|2} (5f{s|4})'];
const LEGEND=[['Pu{s|IV}O{b|2} (5f{s|4})','#8b4513',953],['Np{s|IV}O{b|2} (5f{s|3})','#4a9fd8',999],['U{s|IV}O{b|2} (5f{s|2})','#c0393f',1046],['[U{s|V}O{b|2}]{s|+}-Fe (5f{s|1})','#5a18c4',1097],['[U{s|V}O{b|2}]{s|+}-K (5f{s|1})','#c07f22',1145],['[U{s|VI}O{b|2}]{s|2 +}  (5f{s|0})','#3f931e',1191]];
const gfx=[];
PANELS.forEach((p,i)=>{
  gfx.push(T(TITLES[i],p.px+152,p.py-(i<3?22:23),21));
  gfx.push(T(p.tag,p.px+14,p.py+24,19.5,{color:p.tagColor,align:'left'}));
});
gfx.push(T('Emission energy relative to M{b|4} edge WL (eV)',22,406,19.6,{rot:Math.PI/2}));
gfx.push(T('Excitation energy relative to M{b|4} edge WL (eV)',597,712,19.6));
gfx.push(T('Relative intensity to WL',584,813,19.6));
gfx.push(T('Relative intensity to WL',22,1059,19.6,{rot:Math.PI/2}));
gfx.push(T('Excitation energy relative to M{b|4} edge WL (eV)',584,1311,19.6));
gfx.push(T('1e−1',84,849,15,{align:'left'}));
gfx.push(T('(g)',98,889,19.5,{align:'left'}));
LEGEND.forEach(l=>gfx.push(T(l[0],151,l[2],21.5,{color:l[1],align:'left'})));
const chart=echarts.init(document.getElementById('c'),null,{renderer:'canvas',width:1137,height:1324});
chart.setOption({animation:false,backgroundColor:'#fff',grid,xAxis,yAxis,series,graphic:{elements:gfx},
  visualMap:{show:false,type:'continuous',dimension:2,min:CB_MIN,max:CB_MAX,seriesIndex:heatIdx,inRange:{color:INFERNO}}});
</script></body></html>
